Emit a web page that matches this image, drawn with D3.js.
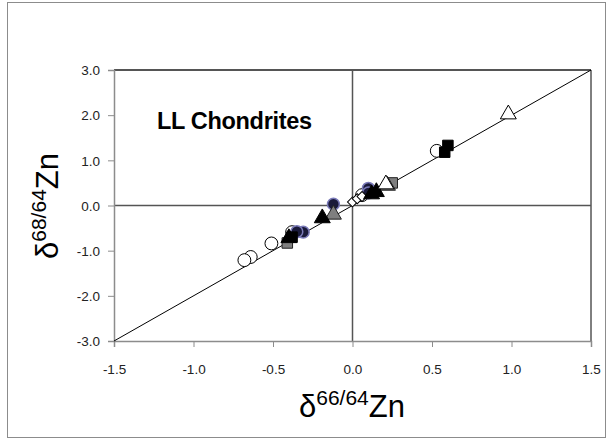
<html>
<script src='https://d3js.org/d3.v7.min.js'></script>
<style>
body { margin: 0; background-color: #ffffff; }
.tick text { font: 13.5px 'Liberation Sans', sans-serif; fill: #222; }
</style>
<body>
<script>
// tick values
var xTicks = [-1.5, -1.0, -0.5, 0.0, 0.5, 1.0, 1.5];
var yTicks = [-3, -2, -1, 0, 1, 2, 3];

// series, [d66, d68]
var openCircles = [[0.53, 1.21], [-0.38, -0.59], [-0.51, -0.84], [-0.64, -1.14], [-0.68, -1.21], [0.06, 0.23]];
var blackSquares = [[0.60, 1.33], [0.58, 1.18], [-0.38, -0.70]];
var openTriangles = [[0.98, 2.02], [0.21, 0.47]];
var graySquares = [[-0.41, -0.83], [0.25, 0.50]];
var navyCircles = [[0.10, 0.38], [0.10, 0.28], [-0.12, 0.03], [-0.31, -0.59], [-0.35, -0.58]];
var blackTriangles = [[0.15, 0.30], [0.12, 0.25], [-0.19, -0.28], [-0.40, -0.72]];
var grayTriangles = [[-0.12, -0.20], [0.22, 0.44]];
var openDiamonds = [[0.0, 0.08], [0.03, 0.15], [0.06, 0.20]];

var W = 610, H = 440;
var margin = {top: 70, right: 19, bottom: 99, left: 114},
    width = W - margin.left - margin.right,
    height = H - margin.top - margin.bottom;

var x = d3.scaleLinear().domain([-1.5, 1.5]).range([0, width]);
var y = d3.scaleLinear().domain([-3, 3]).range([height, 0]);
var fmt = function(d) { return d.toFixed(1); };

var root = d3.select('body').append('svg').attr('width', W).attr('height', H);

// outer chart border
root.append('rect').attr('x', 7.5).attr('y', 2.5).attr('width', 598).attr('height', 435)
  .attr('fill', '#fff').attr('stroke', '#8c8c8c').attr('stroke-width', 1);

var svg = root.append('g').attr('transform', 'translate(' + margin.left + ',' + margin.top + ')');

// plot frame: top dark, right black
svg.append('line').attr('x1', 0).attr('x2', width).attr('y1', 0).attr('y2', 0)
  .attr('stroke', '#555').attr('stroke-width', 2);
svg.append('line').attr('x1', width).attr('x2', width).attr('y1', 0).attr('y2', height)
  .attr('stroke', '#000').attr('stroke-width', 1);

// zero lines
svg.append('line').attr('x1', x(0)).attr('x2', x(0)).attr('y1', 0).attr('y2', height)
  .attr('stroke', '#555').attr('stroke-width', 1.5);
svg.append('line').attr('x1', 0).attr('x2', width).attr('y1', y(0)).attr('y2', y(0))
  .attr('stroke', '#555').attr('stroke-width', 1.5);

// axes
var xAxis = svg.append('g').attr('transform', 'translate(0,' + height + ')')
  .call(d3.axisBottom(x).tickValues(xTicks).tickFormat(fmt).tickSize(6).tickPadding(17));
var yAxis = svg.append('g')
  .call(d3.axisLeft(y).tickValues(yTicks).tickFormat(fmt).tickSize(6).tickPadding(8));
[xAxis, yAxis].forEach(function(a) {
  a.select('.domain').attr('stroke', '#8c8c8c').attr('stroke-width', 1.5);
  a.selectAll('.tick line').attr('stroke', '#8c8c8c');
});
yAxis.selectAll('.tick text').attr('dy', '0.35em');

// 1:1 (mass dependent) line
svg.append('line').attr('x1', x(-1.5)).attr('y1', y(-3)).attr('x2', x(1.5)).attr('y2', y(3))
  .attr('stroke', '#000').attr('stroke-width', 1);

// markers
var sym = function(type, size) { return d3.symbol().type(type).size(size)(); };
function plot(data, type, size, fill, stroke, sw, rot) {
  svg.selectAll(null).data(data).enter().append('path')
    .attr('d', sym(type, size))
    .attr('transform', function(d) { return 'translate(' + x(d[0]) + ',' + y(d[1]) + ') rotate(' + (rot || 0) + ')'; })
    .attr('fill', fill).attr('stroke', stroke).attr('stroke-width', sw);
}
plot(openCircles, d3.symbolCircle, 130, '#fff', '#000', 1);
plot(navyCircles, d3.symbolCircle, 110, '#1a1a3a', '#7a7ab8', 1.5);
plot(blackSquares, d3.symbolSquare, 110, '#000', '#000', 1);
plot(graySquares, d3.symbolSquare, 110, '#7f7f7f', '#222', 1);
plot(openDiamonds, d3.symbolSquare, 50, '#fff', '#000', 1, 45);
plot(grayTriangles, d3.symbolTriangle, 110, '#7f7f7f', '#222', 1);
plot(blackTriangles, d3.symbolTriangle, 110, '#000', '#000', 1);
plot(openTriangles, d3.symbolTriangle, 110, '#fff', '#000', 1);

// title
svg.append('text').attr('x', 43).attr('y', 59)
  .style('font', 'bold 23.5px "Liberation Sans", sans-serif').attr('textLength', 155).text('LL Chondrites');

// axis labels
var xl = root.append('text').attr('x', 352).attr('y', 417).attr('text-anchor', 'middle')
  .style('font', '31px "Liberation Sans", sans-serif').attr('fill', '#000');
xl.append('tspan').text('δ');
xl.append('tspan').attr('dy', -12).style('font-size', '21px').text('66/64');
xl.append('tspan').attr('dy', 12).text('Zn');

var yl = root.append('text').attr('transform', 'translate(58,206) rotate(-90)').attr('text-anchor', 'middle')
  .style('font', '31px "Liberation Sans", sans-serif').attr('fill', '#000');
yl.append('tspan').text('δ');
yl.append('tspan').attr('dy', -12).style('font-size', '21px').text('68/64');
yl.append('tspan').attr('dy', 12).text('Zn');
</script>
</body>
</html>
